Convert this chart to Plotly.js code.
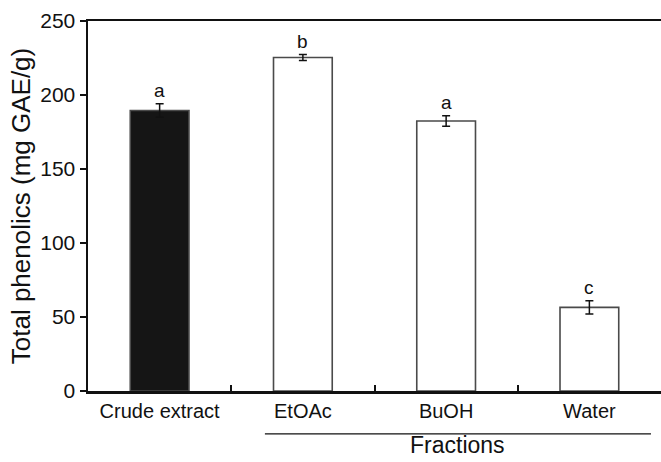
<!DOCTYPE html>
<html><head><meta charset="utf-8">
<script src="https://cdn.plot.ly/plotly-3.0.1.min.js"></script>
<style>html,body{margin:0;padding:0;background:#fff}</style>
</head><body><div id="chart" style="width:661px;height:462px"></div>
<script>
const categories = ["Crude extract", "EtOAc", "BuOH", "Water"];
const values = [189.5, 225.3, 182.4, 56.5];
const errors = [4.6, 2.0, 3.5, 4.5];
const letters = ["a", "b", "a", "c"];
const fills = ["#151515", "#ffffff", "#ffffff", "#ffffff"];

const FONT = "Liberation Sans, Arial, sans-serif";
const trace = {
  type: "bar", x: categories, y: values, width: 0.41,
  marker: {color: fills, line: {color: "#4a4a4a", width: 1.6}},
  error_y: {type: "data", array: errors, visible: true, color: "#111", thickness: 1.5, width: 4},
  hoverinfo: "skip"
};
const annotations = categories.map((c, i) => ({
  x: c, y: values[i] + errors[i], xref: "x", yref: "y", text: letters[i],
  showarrow: false, yanchor: "bottom", yshift: 1,
  font: {family: FONT, size: 19, color: "#111"}
}));
annotations.push({
  x: 2.08, y: -0.146, xref: "x", yref: "paper", text: "Fractions", showarrow: false,
  yanchor: "middle", font: {family: FONT, size: 23, color: "#111"}
});
const layout = {
  width: 661, height: 462,
  margin: {l: 88, r: 0, t: 21, b: 71},
  paper_bgcolor: "#fff", plot_bgcolor: "#fff",
  showlegend: false,
  font: {family: FONT, color: "#111"},
  xaxis: {
    range: [-0.5, 3.5], showline: true, linewidth: 2.5, linecolor: "#111", mirror: true,
    ticks: "inside", tickson: "boundaries", ticklen: 6, tickwidth: 2, tickcolor: "#111",
    showgrid: false, tickfont: {size: 20, color: "#111"}, fixedrange: true
  },
  yaxis: {
    range: [0, 250], dtick: 50, showline: true, linewidth: 2.5, linecolor: "#111",
    ticks: "outside", ticklen: 6, tickwidth: 1.5, tickcolor: "#111", showgrid: false, zeroline: false,
    tickfont: {size: 21, color: "#111"},
    title: {text: "Total phenolics (mg GAE/g)", font: {size: 26, color: "#111"}, standoff: 2}
  },
  shapes: [{type: "line", xref: "x", yref: "paper", x0: 0.735, x1: 3.43, y0: -0.116, y1: -0.116,
    line: {color: "#111", width: 1.2}}],
  annotations: annotations
};
Plotly.newPlot("chart", [trace], layout, {displayModeBar: false, staticPlot: true});
</script></body></html>
